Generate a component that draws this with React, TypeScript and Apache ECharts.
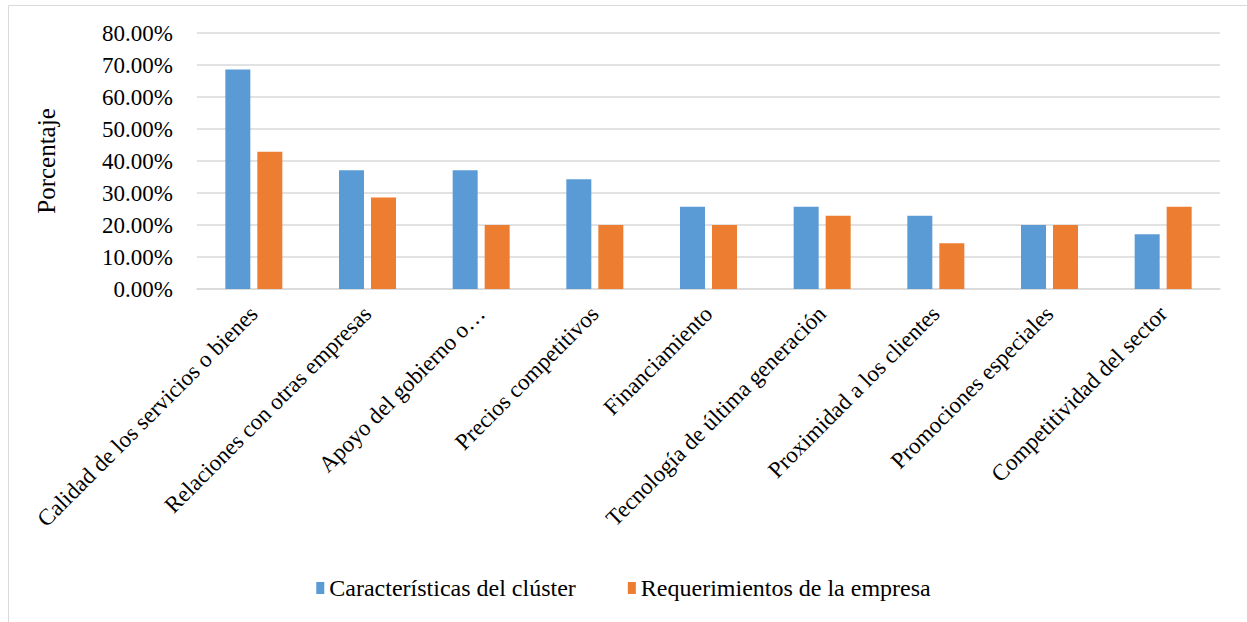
import React, { useEffect, useRef } from "react";
import * as echarts from "echarts";

const categories = [
  "Calidad de los servicios o bienes",
  "Relaciones con otras empresas",
  "Apoyo del gobierno o instituciones",
  "Precios competitivos",
  "Financiamiento",
  "Tecnología de última generación",
  "Proximidad a los clientes",
  "Promociones especiales",
  "Competitividad del sector",
];
const shownLabels: Record<string, string> = {
  "Apoyo del gobierno o instituciones": "Apoyo del gobierno o…",
};
const seriesNames = ["Características del clúster", "Requerimientos de la empresa"];
const cluster = [68.57, 37.14, 37.14, 34.29, 25.71, 25.71, 22.86, 20.0, 17.14];
const empresa = [42.86, 28.57, 20.0, 20.0, 20.0, 22.86, 14.29, 20.0, 25.71];
const yMin = 0;
const yMax = 80;
const yStep = 10;

const FONT = "Liberation Serif";

export default function App() {
  const ref = useRef<HTMLDivElement>(null);
  useEffect(() => {
    document.body.style.margin = "0";
    const chart = echarts.init(ref.current!, null, { renderer: "svg" });
    chart.setOption({
      animation: false,
      backgroundColor: "#ffffff",
      textStyle: { fontFamily: FONT },
      graphic: [
        {
          type: "rect",
          shape: { x: 8.5, y: 5.5, width: 1400, height: 800 },
          style: { fill: "none", stroke: "#d9d9d9", lineWidth: 1 },
          silent: true,
        },
      ],
      grid: { left: 197, right: 27, top: 33, bottom: 333, containLabel: false },
      legend: {
        data: seriesNames,
        top: 571,
        left: "center",
        icon: "rect",
        itemWidth: 8,
        itemHeight: 12,
        itemGap: 52,
        textStyle: { fontFamily: FONT, fontSize: 24, color: "#000" },
      },
      xAxis: {
        type: "category",
        data: categories,
        axisLine: { show: true, lineStyle: { color: "#d9d9d9", width: 1.5 } },
        axisTick: { show: false },
        axisLabel: {
          rotate: 45,
          interval: 0,
          margin: 21,
          fontFamily: FONT,
          fontSize: 23,
          color: "#000",
          formatter: (v: string) => shownLabels[v] ?? v,
        },
      },
      yAxis: {
        type: "value",
        min: yMin,
        max: yMax,
        interval: yStep,
        name: "Porcentaje",
        nameLocation: "middle",
        nameGap: 138,
        nameRotate: 90,
        nameTextStyle: { fontFamily: FONT, fontSize: 25, color: "#000" },
        axisLine: { show: false },
        axisTick: { show: false },
        axisLabel: {
          fontFamily: FONT,
          fontSize: 23,
          color: "#000",
          margin: 24,
          formatter: (v: number) => v.toFixed(2) + "%",
        },
        splitLine: { lineStyle: { color: "#d9d9d9", width: 1.5 } },
      },
      series: [
        {
          name: seriesNames[0],
          type: "bar",
          data: cluster,
          barWidth: 25,
          barGap: "28%",
          itemStyle: { color: "#5b9bd5" },
        },
        {
          name: seriesNames[1],
          type: "bar",
          data: empresa,
          barWidth: 25,
          barGap: "28%",
          itemStyle: { color: "#ed7d31" },
        },
      ],
    });
    return () => chart.dispose();
  }, []);
  return <div ref={ref} style={{ width: 1247, height: 622 }} />;
}
